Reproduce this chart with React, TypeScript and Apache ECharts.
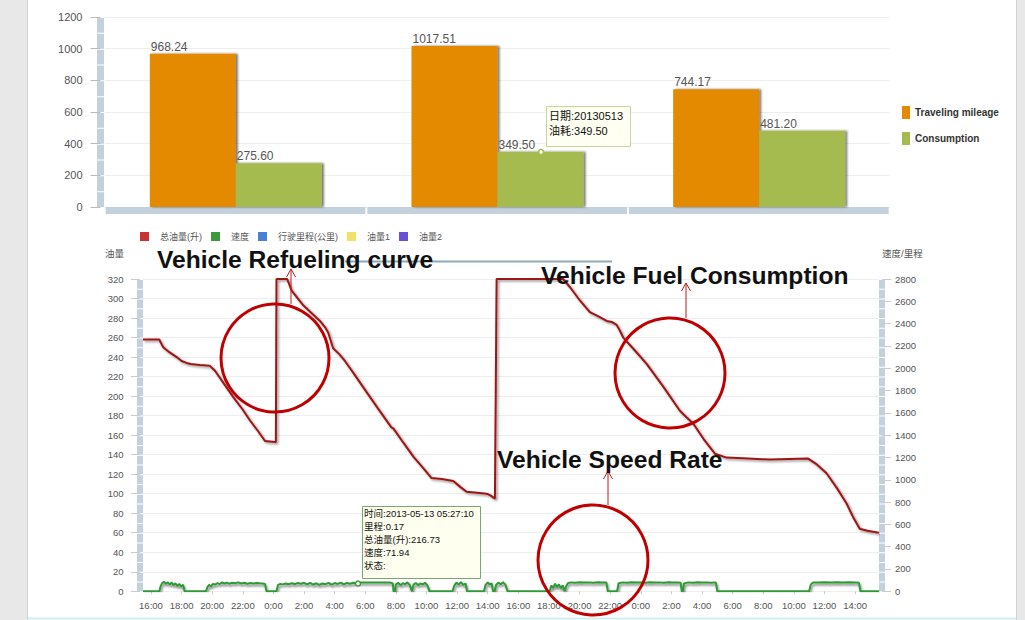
import React, { useEffect, useRef } from 'react';
import * as echarts from 'echarts';

// ---------- Top chart data ----------
const barCategories = ['20130512', '20130513', '20130514'];
const mileageValues = [968.24, 1017.51, 744.17];
const consumptionValues = [275.6, 349.5, 481.2];
const barSeriesNames = ['Traveling mileage', 'Consumption'];

// ---------- Bottom chart data ----------
// x = hours since 2013-05-12 00:00
const lineLegendNames = ['总油量(升)', '速度', '行驶里程(公里)', '油量1', '油量2'];
const hourTicks = [16, 18, 20, 22, 24, 26, 28, 30, 32, 34, 36, 38, 40, 42, 44, 46, 48, 50, 52, 54, 56, 58, 60, 62];

const fuelPoints: [number, number][] = [
  [15.48, 258], [16.55, 258], [16.6, 256], [16.8, 250], [17.2, 245], [17.68, 240], [18.0, 236], [18.33, 234],
  [18.6, 233], [19.2, 232], [19.85, 231], [20.18, 226], [20.8, 212], [21.38, 199], [22.0, 186], [22.47, 175],
  [23.0, 164], [23.45, 154], [24.1, 153], [24.16, 153], [24.2, 320], [24.9, 320], [25.19, 308], [25.95, 293],
  [26.5, 285], [27.04, 277], [27.4, 270], [27.58, 265], [27.9, 249], [28.3, 243], [28.67, 236], [29.3, 222],
  [29.87, 209], [30.8, 188], [31.61, 170], [31.7, 168], [31.83, 167], [32.5, 152], [33.14, 138], [33.8, 126],
  [34.33, 116], [35.0, 115], [35.75, 113], [36.2, 107], [36.62, 102], [37.3, 101], [37.93, 100], [38.2, 98],
  [38.47, 95], [38.58, 320], [42.93, 320], [43.5, 309], [44.02, 298], [44.67, 286], [45.2, 282], [45.77, 277],
  [46.1, 276], [46.42, 273], [46.6, 268], [46.85, 260], [47.6, 247], [48.38, 233], [49.5, 209], [50.55, 185],
  [51.0, 178], [51.42, 172], [52.1, 156], [52.84, 141], [53.6, 137], [55.0, 136], [56.43, 135], [57.7, 135.5],
  [58.93, 136], [59.5, 130], [60.13, 121], [60.8, 106], [61.44, 90], [61.9, 75], [62.3, 64], [62.8, 62], [63.55, 60],
];

const speedPoints: [number, number][] = [
  [15.48, 0], [16.55, 0], [16.62, 40], [16.72, 72], [16.85, 85], [16.98, 68], [17.1, 80], [17.22, 62], [17.35, 78],
  [17.48, 55], [17.6, 72], [17.72, 48], [17.85, 66], [17.98, 42], [18.1, 58], [18.2, 0],
  [19.6, 0], [19.68, 35], [19.8, 58], [19.92, 45], [20.05, 66], [20.2, 60], [20.35, 74], [20.5, 65], [20.65, 80],
  [20.8, 70], [20.95, 78], [21.1, 68], [21.3, 76], [21.5, 72], [21.7, 80], [21.9, 70], [22.1, 76], [22.3, 68],
  [22.5, 74], [22.7, 70], [22.9, 75], [23.1, 72], [23.3, 70], [23.45, 66], [23.55, 0],
  [24.2, 0], [24.3, 58], [24.45, 66], [24.6, 62], [24.8, 70], [25.0, 64], [25.2, 72], [25.4, 66], [25.6, 74],
  [25.8, 68], [26.0, 76], [26.2, 62], [26.4, 75], [26.6, 60], [26.8, 72], [27.0, 58], [27.2, 70], [27.4, 64],
  [27.6, 76], [27.8, 60], [28.0, 74], [28.2, 66], [28.4, 78], [28.6, 62], [28.8, 75], [29.0, 68], [29.2, 76],
  [29.45, 72], [29.7, 78], [30.0, 80], [30.4, 79], [30.8, 80], [31.2, 78], [31.6, 80], [31.8, 70], [31.85, 0],
  [31.95, 0], [32.0, 62], [32.15, 76], [32.3, 55], [32.45, 72], [32.6, 64], [32.75, 80], [32.9, 58], [33.05, 0],
  [33.15, 60], [33.3, 74], [33.45, 56], [33.6, 70], [33.75, 62], [33.9, 76], [34.05, 55], [34.2, 0],
  [35.7, 0], [35.8, 48], [35.95, 78], [36.1, 60], [36.25, 82], [36.4, 58], [36.55, 70], [36.65, 0],
  [37.75, 0], [37.85, 55], [38.0, 80], [38.12, 62], [38.25, 72], [38.35, 0], [38.45, 0], [38.55, 58], [38.7, 78],
  [38.85, 64], [39.0, 82], [39.15, 60], [39.3, 0],
  [42.05, 0], [42.15, 52], [42.28, 30], [42.4, 68], [42.52, 38], [42.65, 62], [42.78, 28], [42.9, 55], [43.02, 0],
  [43.12, 45], [43.25, 74], [43.45, 80], [43.7, 76], [44.0, 82], [44.3, 78], [44.6, 80], [44.9, 77], [45.2, 81],
  [45.5, 78], [45.75, 80], [45.85, 0],
  [46.45, 0], [46.55, 72], [46.8, 80], [47.1, 76], [47.4, 82], [47.7, 78], [48.0, 80], [48.3, 76], [48.6, 81],
  [48.9, 78], [49.2, 80], [49.5, 77], [49.8, 82], [50.1, 78], [50.4, 80], [50.6, 76], [50.68, 0], [50.75, 0],
  [50.82, 70], [51.1, 80], [51.4, 77], [51.7, 82], [52.0, 78], [52.3, 80], [52.6, 76], [52.9, 80], [53.0, 0],
  [59.0, 0], [59.1, 60], [59.25, 80], [59.6, 78], [60.0, 82], [60.4, 79], [60.8, 81], [61.2, 78], [61.6, 82],
  [62.0, 80], [62.25, 76], [62.35, 0], [63.56, 0],
];

const tip1Lines = ['日期:20130513', '油耗:349.50'];
const tip2Lines = ['时间:2013-05-13 05:27:10', '里程:0.17', '总油量(升):216.73', '速度:71.94', '状态:'];

const FONT = "'Liberation Sans', Arial, 'Noto Sans CJK SC', sans-serif";
const CJK = "'Liberation Sans', 'Noto Sans CJK SC', sans-serif";
const plain = (v: number) => String(v);

export default function App() {
  const ref = useRef<HTMLDivElement>(null);

  useEffect(() => {
    if (!ref.current) return;
    const chart = echarts.init(ref.current, undefined, { renderer: 'svg' });

    const annText = (text: string, x: number, y: number) => ({
      type: 'text', z: 100, x, y,
      style: { text, fill: '#111', font: `bold 24.6px ${FONT}`, verticalAlign: 'middle', align: 'left' },
    });
    const circle = (cx: number, cy: number, r: number) => ({
      type: 'circle', z: 90, shape: { cx, cy, r },
      style: { fill: 'none', stroke: '#c00000', lineWidth: 3 },
    });
    const arrow = (x: number, y1: number, y2: number) => ({
      type: 'group', z: 95,
      children: [
        { type: 'line', z: 95, shape: { x1: x, y1, x2: x, y2 }, style: { stroke: '#c41a1a', lineWidth: 1 } },
        { type: 'polyline', z: 95, shape: { points: [[x - 4.5, y2 + 8], [x, y2], [x + 4.5, y2 + 8]] }, style: { stroke: '#c41a1a', lineWidth: 1, fill: 'none' } },
      ],
    });

    const option: any = {
      animation: false,
      backgroundColor: '#fff',
      textStyle: { fontFamily: FONT },
      legend: [
        {
          data: barSeriesNames, orient: 'vertical', left: 902, top: 106, padding: 0,
          itemWidth: 8, itemHeight: 13, itemGap: 13, icon: 'rect',
          textStyle: { fontSize: 10, fontWeight: 'bold', color: '#333', fontFamily: FONT },
        },
        {
          data: lineLegendNames, left: 140, top: 232, padding: 0,
          itemWidth: 9, itemHeight: 9, itemGap: 9, icon: 'rect',
          textStyle: { fontSize: 9, color: '#555', fontFamily: CJK, padding: [0, 0, 0, 6] },
        },
      ],
      grid: [
        { left: 105, right: 135, top: 17, bottom: 413 },
        { left: 143, right: 146, top: 279, bottom: 28.7 },
      ],
      xAxis: [
        {
          type: 'category', gridIndex: 0, data: barCategories, offset: 3.5,
          axisLine: { onZero: false, lineStyle: { color: '#c3d1dd', width: 7, cap: 'butt', type: [259.67, 2], dashOffset: 260.67 } },
          axisTick: { show: false }, axisLabel: { show: false }, splitLine: { show: false },
        },
        {
          type: 'value', gridIndex: 1, min: 15.48, max: 63.56,
          axisLine: { show: false },
          axisTick: { show: true, customValues: hourTicks, length: 3, lineStyle: { color: '#ccc' } },
          axisLabel: {
            customValues: hourTicks, margin: 9, fontSize: 9.5, color: '#555',
            formatter: (v: number) => `${Math.round(v) % 24}:00`,
          },
          splitLine: { show: false },
        },
      ],
      yAxis: [
        {
          type: 'value', gridIndex: 0, min: 0, max: 1200, interval: 200, offset: 4.5,
          axisLine: { show: true, lineStyle: { color: '#c3d1dd', width: 7, cap: 'butt', type: [14.83, 1] } },
          axisTick: { show: true, length: 10, lineStyle: { color: '#bbb' } },
          axisLabel: { margin: 18, fontSize: 11, color: '#555', formatter: plain },
          splitLine: { lineStyle: { color: '#eee' } },
        },
        {
          type: 'value', gridIndex: 1, min: 0, max: 320, interval: 20, offset: 3, position: 'left',
          name: '油量', nameLocation: 'end', nameGap: 21,
          nameTextStyle: { fontSize: 9.5, color: '#555', align: 'right', padding: [0, 16, 0, 0], fontFamily: CJK },
          axisLine: { show: true, onZero: false, lineStyle: { color: '#c3d1dd', width: 6, cap: 'butt', type: [8.76, 1] } },
          axisTick: { show: true, length: 9, lineStyle: { color: '#ccc' } },
          axisLabel: { margin: 16.5, fontSize: 9.5, color: '#555', formatter: plain },
          splitLine: { lineStyle: { color: '#eee' } },
        },
        {
          type: 'value', gridIndex: 1, min: 0, max: 2800, interval: 200, offset: 3, position: 'right',
          name: '速度/里程', nameLocation: 'end', nameGap: 21,
          nameTextStyle: { fontSize: 9.5, color: '#555', align: 'left', fontFamily: CJK },
          axisLine: { show: true, onZero: false, lineStyle: { color: '#c3d1dd', width: 6, cap: 'butt', type: [8.76, 1] } },
          axisTick: { show: true, length: 9, lineStyle: { color: '#ccc' } },
          axisLabel: { margin: 13, fontSize: 9.5, color: '#555', formatter: plain },
          splitLine: { show: false },
        },
      ],
      series: [
        {
          name: barSeriesNames[0], type: 'bar', xAxisIndex: 0, yAxisIndex: 0, data: mileageValues,
          barWidth: 86, barGap: '0%',
          itemStyle: { color: '#e38a00', shadowColor: 'rgba(0,0,0,0.55)', shadowBlur: 2, shadowOffsetX: 2 },
          label: { show: true, position: [1, -13], fontSize: 12, color: '#555', formatter: (p: any) => Number(p.value).toFixed(2) },
        },
        {
          name: barSeriesNames[1], type: 'bar', xAxisIndex: 0, yAxisIndex: 0, data: consumptionValues,
          barWidth: 86, barGap: '0%',
          itemStyle: { color: '#a6bb4f', shadowColor: 'rgba(0,0,0,0.55)', shadowBlur: 2, shadowOffsetX: 2 },
          label: { show: true, position: [1, -13], fontSize: 12, color: '#555', formatter: (p: any) => Number(p.value).toFixed(2) },
        },
        {
          name: lineLegendNames[0], type: 'line', xAxisIndex: 1, yAxisIndex: 1, data: fuelPoints,
          showSymbol: false, color: '#c83232',
          lineStyle: { color: '#9c1616', width: 2, shadowColor: 'rgba(0,0,0,0.45)', shadowBlur: 2, shadowOffsetX: 1.5, shadowOffsetY: 1.5 },
        },
        {
          name: lineLegendNames[1], type: 'line', xAxisIndex: 1, yAxisIndex: 2, data: speedPoints,
          showSymbol: false, color: '#3c9a3c',
          lineStyle: { color: '#2f9a35', width: 2, shadowColor: 'rgba(0,0,0,0.5)', shadowBlur: 2, shadowOffsetX: 1, shadowOffsetY: 2 },
        },
        { name: lineLegendNames[2], type: 'line', xAxisIndex: 1, yAxisIndex: 2, data: [], color: '#4a80d4' },
        { name: lineLegendNames[3], type: 'line', xAxisIndex: 1, yAxisIndex: 1, data: [], color: '#f2e06a' },
        { name: lineLegendNames[4], type: 'line', xAxisIndex: 1, yAxisIndex: 1, data: [], color: '#6a4fd4' },
      ],
      graphic: {
        elements: [
          // page frame
          { type: 'rect', z: -10, shape: { x: 0, y: 0, width: 27, height: 620 }, style: { fill: '#e8e8e8' } },
          { type: 'line', z: -9, shape: { x1: 27.5, y1: 0, x2: 27.5, y2: 620 }, style: { stroke: '#d2d2d2', lineWidth: 1 } },
          { type: 'rect', z: -10, shape: { x: 1016, y: 0, width: 9, height: 620 }, style: { fill: '#e8e8e8' } },
          { type: 'line', z: -9, shape: { x1: 1016.5, y1: 0, x2: 1016.5, y2: 620 }, style: { stroke: '#d2d2d2', lineWidth: 1 } },
          { type: 'line', z: -9, shape: { x1: 28, y1: 618.5, x2: 1016, y2: 618.5 }, style: { stroke: '#cfeff0', lineWidth: 2 } },
          { type: 'line', z: 80, shape: { x1: 345, y1: 261.5, x2: 612, y2: 261.5 }, style: { stroke: '#8ea8bc', lineWidth: 2 } },
          // annotations
          circle(275, 358, 54),
          circle(670, 373, 55),
          circle(593, 560, 55),
          arrow(291, 304, 269),
          arrow(686, 318, 283),
          arrow(608, 505, 471),
          annText('Vehicle Refueling curve', 157, 259.7),
          annText('Vehicle Fuel Consumption', 541, 275),
          annText('Vehicle Speed Rate', 497, 459),
          // tooltip on bar chart
          { type: 'circle', z: 60, shape: { cx: 541, cy: 152, r: 2.5 }, style: { fill: '#fff', stroke: '#a6bb4f', lineWidth: 1.5 } },
          { type: 'rect', z: 60, shape: { x: 546.5, y: 106.5, width: 84, height: 40 }, style: { fill: '#fffff2', stroke: '#c8d69c', lineWidth: 1 } },
          ...tip1Lines.map((t, i) => ({
            type: 'text', z: 61, x: 549, y: 115.5 + i * 15.5,
            style: { text: t, fill: '#111', font: `11px ${CJK}`, verticalAlign: 'middle' },
          })),
          // tooltip on line chart
          { type: 'circle', z: 60, shape: { cx: 358, cy: 583.5, r: 2.5 }, style: { fill: '#fff', stroke: '#3c9a3c', lineWidth: 1.5 } },
          { type: 'rect', z: 60, shape: { x: 362.5, y: 506.5, width: 118, height: 72 }, style: { fill: '#fffff0', stroke: '#7aa870', lineWidth: 1 } },
          ...tip2Lines.map((t, i) => ({
            type: 'text', z: 61, x: 364, y: 513.5 + i * 13.1,
            style: { text: t, fill: '#111', font: `9.5px ${CJK}`, verticalAlign: 'middle' },
          })),
        ],
      },
    };

    chart.setOption(option);
    return () => chart.dispose();
  }, []);

  return (
    <div
      ref={ref}
      style={{ position: 'fixed', left: 0, top: 0, width: 1025, height: 620, background: '#fff' }}
    />
  );
}
